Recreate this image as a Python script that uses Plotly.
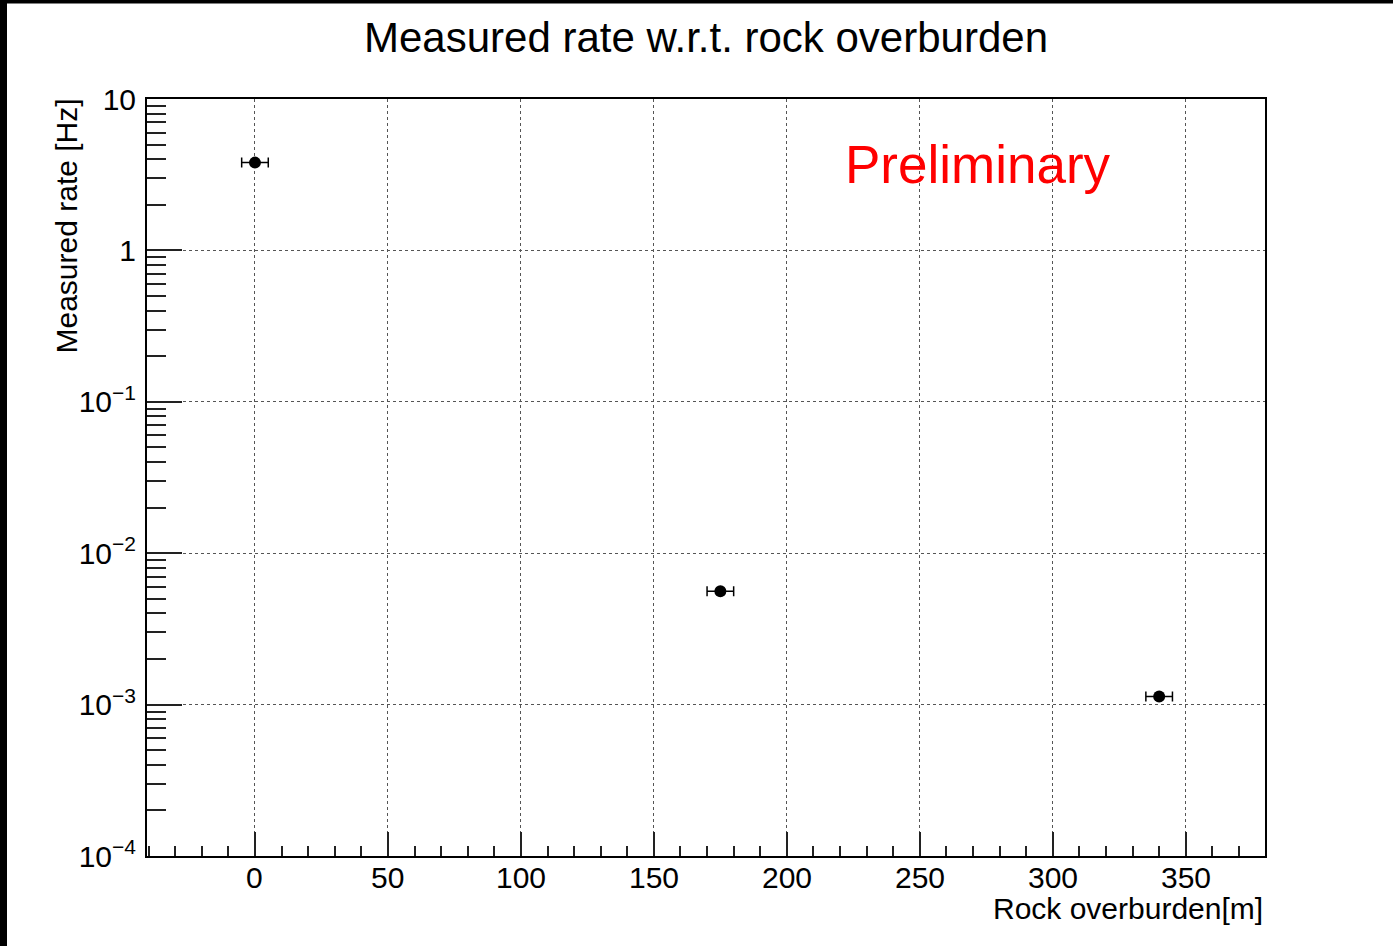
import plotly.graph_objects as go

# Data
overburden_m = [0, 175, 340]
overburden_err = [5, 5, 5]
rate_hz = [3.8, 0.0056, 0.00113]

x_tickvals = [0, 50, 100, 150, 200, 250, 300, 350]
x_ticktext = ["0", "50", "100", "150", "200", "250", "300", "350"]
y_tickvals = [1e-4, 1e-3, 1e-2, 1e-1, 1, 10]
y_ticktext = ["10<sup>\u22124</sup>", "10<sup>\u22123</sup>", "10<sup>\u22122</sup>",
              "10<sup>\u22121</sup>", "1", "10"]
x_minor = [v for v in range(-40, 380, 10) if v % 50 != 0]
y_minor = [k * 10.0 ** e for e in range(-4, 1) for k in range(2, 10)]

FONT = "Liberation Sans, Arial, Helvetica, sans-serif"

fig = go.Figure()
fig.add_trace(go.Scatter(
    x=overburden_m, y=rate_hz, mode="markers",
    marker=dict(color="black", size=12, symbol="circle"),
    error_x=dict(type="data", array=overburden_err, visible=True,
                 color="black", thickness=1.5, width=5),
    showlegend=False,
))

W, H = 1393, 946
L, R, T, B = 147, 128, 99, 90
pw, ph = W - L - R, H - T - B

fig.update_layout(
    width=W, height=H,
    margin=dict(l=L, r=R, t=T, b=B),
    paper_bgcolor="white", plot_bgcolor="white",
    font=dict(family=FONT, color="black", size=30),
    title=dict(text="Measured rate w.r.t. rock overburden",
               x=706 / W, xanchor="center", y=1 - 37 / H, yanchor="middle",
               font=dict(size=42, family=FONT, color="black")),
    xaxis=dict(
        range=[-40.6, 379.8], showline=True, linecolor="black", linewidth=2,
        mirror=True, ticks="inside", ticklen=24, tickwidth=2, tickcolor="#222",
        tickvals=x_tickvals, ticktext=x_ticktext, zeroline=False,
        showgrid=True, gridcolor="#555", griddash="dot", gridwidth=1,
        showticklabels=False,
        minor=dict(ticks="inside", ticklen=10, tickwidth=2, tickcolor="#222",
                   tickvals=x_minor, showgrid=False),
    ),
    yaxis=dict(
        type="log", range=[-4, 1], showline=True, linecolor="black", linewidth=2,
        mirror=True, ticks="inside", ticklen=35, tickwidth=2, tickcolor="#222",
        tickvals=y_tickvals, ticktext=y_ticktext, zeroline=False,
        showgrid=True, gridcolor="#555", griddash="dot", gridwidth=1,
        tickfont=dict(size=30), ticklabelstandoff=3,
        minor=dict(ticks="inside", ticklen=19, tickwidth=2, tickcolor="#222",
                   tickvals=y_minor, showgrid=False),
    ),
)

# x tick labels placed on the x axis scale
for v, t in zip(x_tickvals, x_ticktext):
    fig.add_annotation(text=t, xref="x", x=v, xanchor="center",
                       yref="paper", y=-(877 - 856) / ph, yanchor="middle",
                       showarrow=False, font=dict(size=30, family=FONT, color="black"))

fig.add_annotation(text="Rock overburden[m]", xref="paper", yref="paper",
                   x=1.0, xanchor="right", y=-(908 - 856) / ph, yanchor="middle",
                   showarrow=False, font=dict(size=30, family=FONT, color="black"))
fig.add_annotation(text="Measured rate [Hz]", xref="paper", yref="paper",
                   x=(66 - L) / pw, xanchor="center", y=1.0 + 2 / ph, yanchor="top",
                   textangle=-90, showarrow=False,
                   font=dict(size=30, family=FONT, color="black"))
fig.add_annotation(text="Preliminary", xref="paper", yref="paper",
                   x=(978 - L) / pw, xanchor="center", y=1 - (165 - T) / ph,
                   yanchor="middle", showarrow=False,
                   font=dict(size=53, family=FONT, color="red"))

# black frame strips at the image edges
fig.add_shape(type="rect", xref="paper", yref="paper",
              x0=(0 - L) / pw, x1=(7 - L) / pw, y0=-B / ph - 0.01, y1=1 + T / ph + 0.01,
              fillcolor="black", line=dict(width=0), layer="above")
fig.add_shape(type="rect", xref="paper", yref="paper",
              x0=(0 - L) / pw, x1=1 + R / pw + 0.01, y0=1 + (T - 3.5) / ph, y1=1 + T / ph + 0.01,
              fillcolor="black", line=dict(width=0), layer="above")

fig.write_html("out.html")
